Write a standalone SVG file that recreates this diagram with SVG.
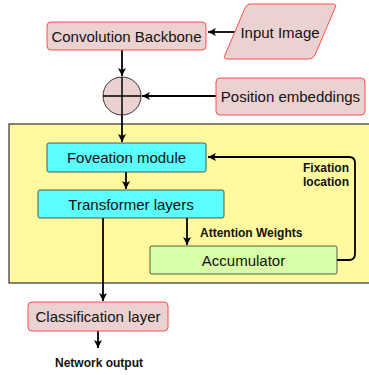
<svg xmlns="http://www.w3.org/2000/svg" width="369" height="375" viewBox="0 0 369 375">
<defs>
<style>
.pink{fill:#ecd1d1;stroke:#ff4d4d;stroke-width:1}
.cyan{fill:#5cfdfd;stroke:#333;stroke-width:0.8}
.green{fill:#d8ffa8;stroke:#333;stroke-width:0.8}
.t{font-family:"Liberation Sans",Arial,sans-serif;font-size:15px;fill:#111;text-anchor:middle}
.b{font-family:"Liberation Sans",Arial,sans-serif;font-size:12px;font-weight:bold;fill:#111}
.c{fill:none;stroke:#000;stroke-width:1.8}
</style>
<marker id="ah" markerWidth="10" markerHeight="10" refX="8" refY="5" orient="auto" markerUnits="userSpaceOnUse">
<path d="M0,1 L8,5 L0,9 L2,5 z" fill="#000"/>
</marker>
</defs>
<g id="container">
<rect x="9" y="124" width="370" height="159" fill="#fffaa0" stroke="#333" stroke-width="1.2"/>
</g>
<g id="connectors">
<path class="c" d="M235,32 H208" marker-end="url(#ah)"/>
<path class="c" d="M122,50 V76" marker-end="url(#ah)"/>
<path class="c" d="M216,96 H142" marker-end="url(#ah)"/>
<path class="c" d="M122,115 V142" marker-end="url(#ah)"/>
<path class="c" d="M126,172 V189" marker-end="url(#ah)"/>
<path class="c" d="M187,218 V245" marker-end="url(#ah)"/>
<path class="c" d="M337,260 H349 Q355,260 355,254 V163 Q355,157 349,157 H208" marker-end="url(#ah)"/>
<path class="c" d="M103,218 V301" marker-end="url(#ah)"/>
<path class="c" d="M98,331 V348" marker-end="url(#ah)"/>
<text class="b" x="200" y="236.5">Attention Weights</text>
<text class="b" x="349" y="171.5" text-anchor="end">Fixation</text>
<text class="b" x="349" y="185.5" text-anchor="end">location</text>
<text class="b" x="99" y="367" text-anchor="middle">Network output</text>
</g>
<g id="backbone">
<rect class="pink" x="47" y="22" width="159" height="28" rx="4"/>
<text class="t" x="126.5" y="41.5">Convolution Backbone</text>
</g>
<g id="input">
<path class="pink" d="M250,4 H333 Q337,4 335,8 L315,55 Q313,59 309,59 H227 Q223,59 225,55 L245,8 Q247,4 250,4 z"/>
<text class="t" x="280" y="38">Input Image</text>
</g>
<g id="sum">
<circle cx="122" cy="96" r="19" fill="#ecd1d1" stroke="#333" stroke-width="1"/>
<path d="M103,96 H141 M122,77 V115" stroke="#000" stroke-width="1.5"/>
</g>
<g id="position">
<rect class="pink" x="216" y="78" width="149" height="37" rx="4"/>
<text class="t" x="290.5" y="102">Position embeddings</text>
</g>
<g id="foveation">
<rect class="cyan" x="47" y="143" width="159" height="29" rx="2"/>
<text class="t" x="126.5" y="163">Foveation module</text>
</g>
<g id="transformer">
<rect class="cyan" x="38" y="190" width="186" height="28" rx="2"/>
<text class="t" x="131" y="209.5">Transformer layers</text>
</g>
<g id="accumulator">
<rect class="green" x="150" y="246" width="187" height="28" rx="2"/>
<text class="t" x="243.5" y="265.5">Accumulator</text>
</g>
<g id="classification">
<rect class="pink" x="28" y="302" width="140" height="29" rx="4"/>
<text class="t" x="98" y="321.5">Classification layer</text>
</g>
</svg>
